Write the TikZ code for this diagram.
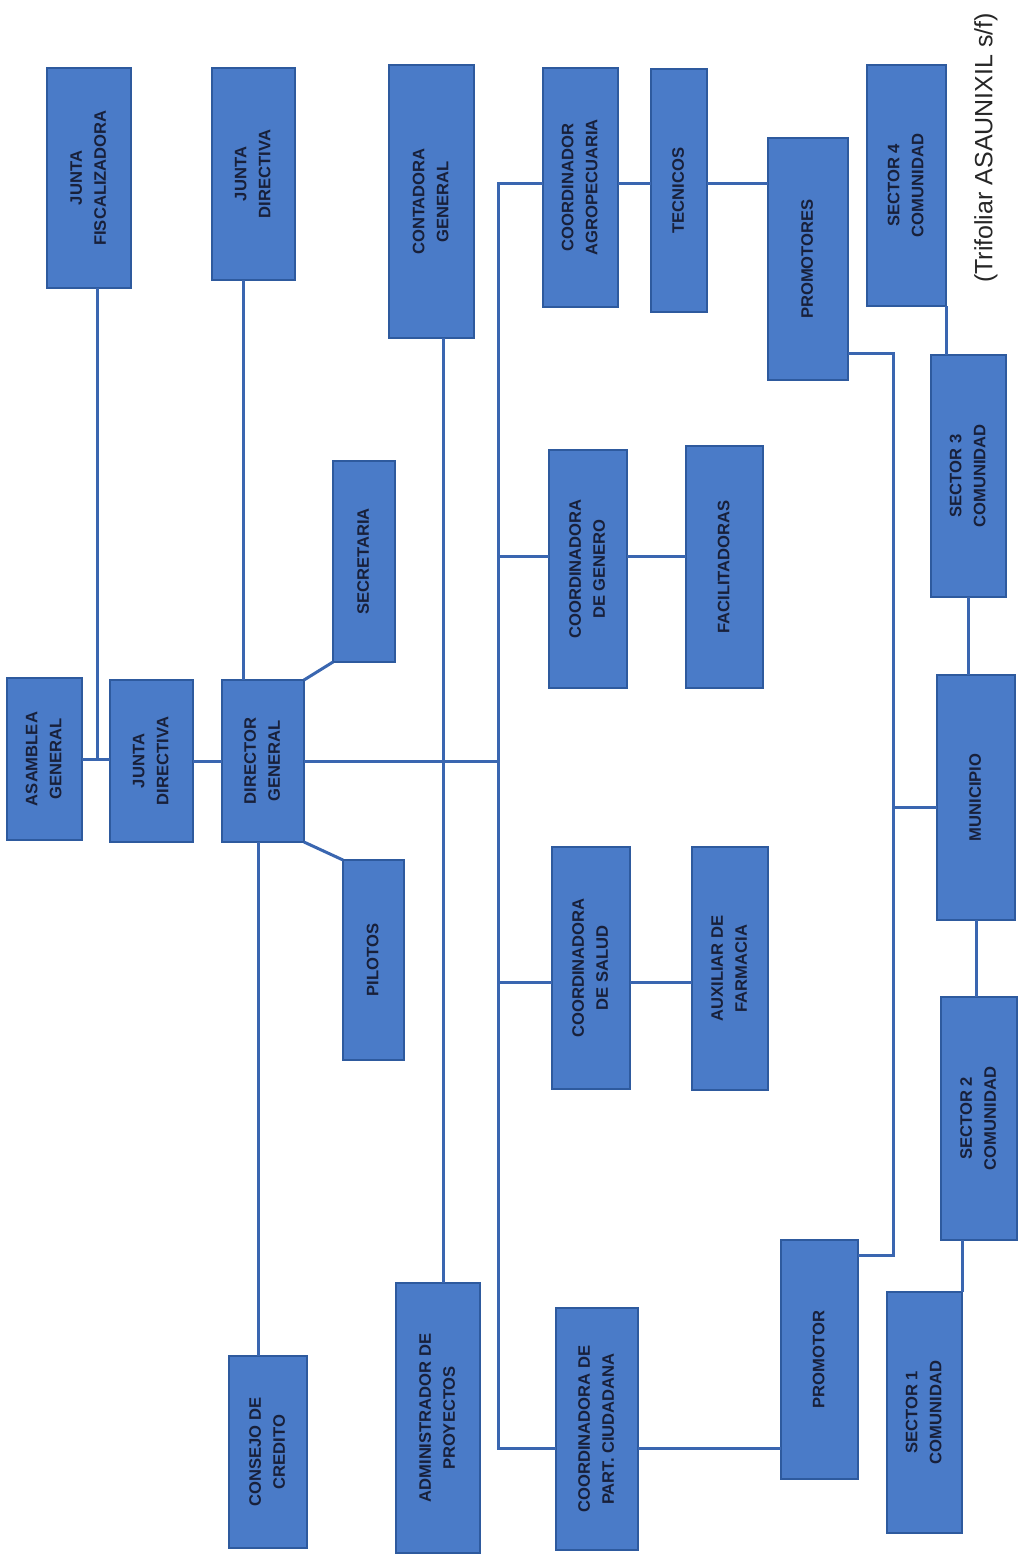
\documentclass[tikz,border=0pt]{standalone}
\usepackage{fontspec}
\setmainfont{Liberation Sans}
\definecolor{boxfill}{HTML}{4A7BC8}
\definecolor{boxline}{HTML}{2E5A9E}
\definecolor{conn}{HTML}{3A66B0}
\definecolor{txt}{HTML}{18203A}
\newcommand\obox[6]{\node[orgbox,minimum width={(#4-#2)*0.5pt},minimum height={(#5-#3)*0.5pt}] (#1) at ({(#2+#4)/2},{(#3+#5)/2}) {\rotatebox{90}{\begin{tabular}{@{}c@{}}#6\end{tabular}}};}
\begin{document}
\begin{tikzpicture}[x=0.5pt,y=-0.5pt,
  orgbox/.style={draw=boxline,fill=boxfill,line width=1pt,inner sep=0pt,outer sep=0pt,
    font=\fontsize{8.3}{12}\selectfont\bfseries,text=txt},
  link/.style={draw=conn,line width=1.5pt}]
\useasboundingbox[fill=white] (0,0) rectangle (1029,1564);
\renewcommand\arraystretch{1}
% column 1
\obox{asm}{7}{678}{82}{840}{ASAMBLEA\\GENERAL}
\obox{jd}{110}{680}{193}{842}{JUNTA\\DIRECTIVA}
\obox{dg}{222}{680}{304}{842}{DIRECTOR\\GENERAL}
\obox{jf}{47}{68}{131}{288}{JUNTA\\FISCALIZADORA}
\obox{jdt}{212}{68}{295}{280}{JUNTA\\DIRECTIVA}
\obox{sec}{333}{461}{395}{662}{SECRETARIA}
\obox{pil}{343}{860}{404}{1060}{PILOTOS}
\obox{cc}{229}{1356}{307}{1548}{CONSEJO DE\\CREDITO}
\obox{cont}{389}{65}{474}{338}{CONTADORA\\GENERAL}
\obox{adm}{396}{1283}{480}{1553}{ADMINISTRADOR DE\\PROYECTOS}
% coordinators
\obox{ca}{543}{68}{618}{307}{COORDINADOR\\AGROPECUARIA}
\obox{tec}{651}{69}{707}{312}{TECNICOS}
\obox{pro}{768}{138}{848}{380}{PROMOTORES}
\obox{cg}{549}{450}{627}{688}{COORDINADORA\\DE GENERO}
\obox{fac}{686}{446}{763}{688}{FACILITADORAS}
\obox{cs}{552}{847}{630}{1089}{COORDINADORA\\DE SALUD}
\obox{aux}{692}{847}{768}{1090}{AUXILIAR DE\\FARMACIA}
\obox{cp}{556}{1308}{638}{1550}{COORDINADORA DE\\PART. CIUDADANA}
\obox{prom}{781}{1240}{858}{1479}{PROMOTOR}
% sectors
\obox{s4}{867}{65}{946}{306}{SECTOR 4\\COMUNIDAD}
\obox{s3}{931}{355}{1006}{597}{SECTOR 3\\COMUNIDAD}
\obox{mun}{937}{675}{1015}{920}{MUNICIPIO}
\obox{s2}{941}{997}{1017}{1240}{SECTOR 2\\COMUNIDAD}
\obox{s1}{887}{1292}{962}{1533}{SECTOR 1\\COMUNIDAD}
% caption
\node[font=\fontsize{12.5}{14}\selectfont,text=black!85] (cap) at (986,148) {\rotatebox{90}{(Trifoliar ASAUNIXIL s/f)}};
% coordinates for buses
\coordinate (busT) at (498,183);
\coordinate (busB) at (498,1448);
\coordinate (cx) at (443,0);
\coordinate (loopx) at (893,0);
% connectors
\draw[link] (asm.east) -- (asm.east -| jd.west);
\draw[link] ([xshift=4pt]jf.south) -- ([xshift=4pt]jf.south |- asm.east);
\draw[link] (jd.east) -- (jd.east -| dg.west);
\draw[link] ([xshift=-5pt]jdt.south) -- ([xshift=-5pt]jdt.south |- dg.north);
\draw[link] ([xshift=-2.5pt]dg.south) -- ([xshift=-2.5pt]dg.south |- cc.north);
\draw[link] (dg.north east) -- (sec.south west);
\draw[link] (dg.south east) -- (pil.north west);
\draw[link] (dg.east) -- (dg.east -| busT);
\draw[link] (ca.west |- busT) -- (busT) -- (busB) -- (cp.west |- busB);
\draw[link] ([yshift=6.5pt]cg.west) -- ([yshift=6.5pt]cg.west -| busT);
\draw[link] ([yshift=-7pt]cs.west) -- ([yshift=-7pt]cs.west -| busT);
\draw[link] (cont.south -| cx) -- (adm.north -| cx);
\draw[link] (ca.east |- busT) -- (tec.west |- busT);
\draw[link] (tec.east |- busT) -- (pro.west |- busT);
\draw[link] ([yshift=6.5pt]cg.east) -- ([yshift=6.5pt]cg.east -| fac.west);
\draw[link] ([yshift=-7pt]cs.east) -- ([yshift=-7pt]cs.east -| aux.west);
\draw[link] (cp.east |- busB) -- (prom.west |- busB);
\draw[link] ([yshift=13.5pt]pro.south east) -| ([yshift=-7.5pt]prom.north east -| loopx) -- ([yshift=-7.5pt]prom.north east);
\draw[link] ([yshift=-5pt]mun.west) -- ([yshift=-5pt]mun.west -| loopx);
\draw[link] (s4.south east) -- (s4.south east |- s3.north);
\draw[link] (s3.south) -- (s3.south |- mun.north);
\draw[link] (mun.south) -- (mun.south |- s2.north);
\draw[link] (s1.north east) -- (s1.north east |- s2.south);
\end{tikzpicture}
\end{document}
